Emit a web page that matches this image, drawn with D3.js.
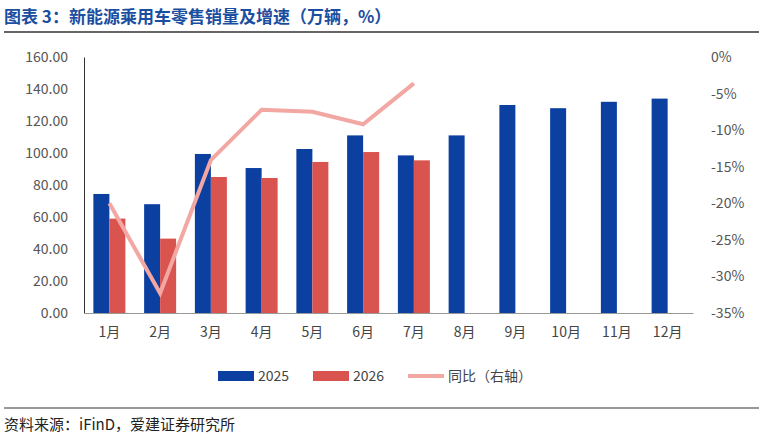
<!DOCTYPE html>
<html>
<head>
<meta charset="UTF-8" />
<script src="https://d3js.org/d3.v7.min.js"></script>
<style>body{margin:0;background:#fff;} text{font-family:"Noto Sans CJK SC","Noto Sans",sans-serif;}</style>
</head>
<body>
<svg id="chart" width="763" height="439"></svg>
<script>
const months = ["1月","2月","3月","4月","5月","6月","7月","8月","9月","10月","11月","12月"];
const sales2025 = [74.4, 68.0, 99.4, 90.6, 102.5, 111.0, 98.5, 111.0, 130.0, 128.0, 132.0, 134.0];
const sales2026 = [59.0, 46.5, 85.0, 84.4, 94.4, 100.6, 95.4];
const yoy = [-20.0, -32.3, -14.1, -7.2, -7.5, -9.2, -3.6];
const leftTicks = [0, 20, 40, 60, 80, 100, 120, 140, 160];
const rightTicks = [0, -5, -10, -15, -20, -25, -30, -35];

const svg = d3.select("#chart");
const plotTop = 57, plotBottom = 313, plotLeft = 84, plotRight = 693;

svg.append("text").attr("x", 4).attr("y", 23).attr("fill", "#1a4ea0")
  .attr("font-size", 17).attr("font-weight", "bold")
  .text("图表 3：新能源乘用车零售销量及增速（万辆，%）");
svg.append("line").attr("x1", 4).attr("x2", 759).attr("y1", 32).attr("y2", 32)
  .attr("stroke", "#333").attr("stroke-width", 1.5);

const x = d3.scaleBand().domain(months).range([plotLeft, plotRight]);
const yL = d3.scaleLinear().domain([0, 160]).range([plotBottom, plotTop]);
const yR = d3.scaleLinear().domain([-35, 0]).range([plotBottom, plotTop]);

const axL = svg.append("g").attr("transform", `translate(${plotLeft},0)`)
  .call(d3.axisLeft(yL).tickValues(leftTicks).tickFormat(d3.format(".2f")).tickSize(0).tickPadding(16));
axL.select(".domain").attr("stroke", "#333");
axL.selectAll("text").attr("fill", "#555").attr("font-size", 14).attr("font-family", "Liberation Sans, sans-serif");

const axR = svg.append("g").attr("transform", `translate(${plotRight},0)`)
  .call(d3.axisRight(yR).tickValues(rightTicks).tickFormat(d => d + "%").tickSize(0).tickPadding(18));
axR.select(".domain").remove();
axR.selectAll("text").attr("fill", "#555").attr("font-size", 14).attr("font-family", "Liberation Sans, sans-serif");

const axB = svg.append("g").attr("transform", `translate(0,${plotBottom})`)
  .call(d3.axisBottom(x).tickSize(0).tickPadding(14));
axB.select(".domain").attr("stroke", "#999");
axB.selectAll("text").attr("fill", "#444").attr("font-size", 14);

const bw = 16;
svg.append("g").selectAll("rect").data(sales2025).join("rect")
  .attr("x", (d, i) => x(months[i]) + x.bandwidth() / 2 - bw)
  .attr("y", d => yL(d)).attr("width", bw).attr("height", d => plotBottom - yL(d))
  .attr("fill", "#0b3fa0");
svg.append("g").selectAll("rect").data(sales2026).join("rect")
  .attr("x", (d, i) => x(months[i]) + x.bandwidth() / 2)
  .attr("y", d => yL(d)).attr("width", bw).attr("height", d => plotBottom - yL(d))
  .attr("fill", "#d9534f");

svg.append("path").datum(yoy)
  .attr("d", d3.line().x((d, i) => x(months[i]) + x.bandwidth() / 2).y(d => yR(d)))
  .attr("fill", "none").attr("stroke", "#f2a7a3").attr("stroke-width", 4);

const lg = svg.append("g").attr("transform", "translate(0,376)");
lg.append("rect").attr("x", 218).attr("y", -5).attr("width", 36).attr("height", 10).attr("fill", "#0b3fa0");
lg.append("text").attr("x", 258).attr("y", 5).attr("font-size", 14).attr("fill", "#444").text("2025");
lg.append("rect").attr("x", 313).attr("y", -5).attr("width", 36).attr("height", 10).attr("fill", "#d9534f");
lg.append("text").attr("x", 353).attr("y", 5).attr("font-size", 14).attr("fill", "#444").text("2026");
lg.append("line").attr("x1", 408).attr("x2", 444).attr("y1", 0).attr("y2", 0).attr("stroke", "#f2a7a3").attr("stroke-width", 4);
lg.append("text").attr("x", 448).attr("y", 5).attr("font-size", 14).attr("fill", "#444").text("同比（右轴）");

svg.append("line").attr("x1", 4).attr("x2", 759).attr("y1", 408).attr("y2", 408)
  .attr("stroke", "#333").attr("stroke-width", 1.2);
svg.append("text").attr("x", 4).attr("y", 430).attr("font-size", 15).attr("fill", "#222")
  .text("资料来源：iFinD，爱建证券研究所");
</script>
</body>
</html>
